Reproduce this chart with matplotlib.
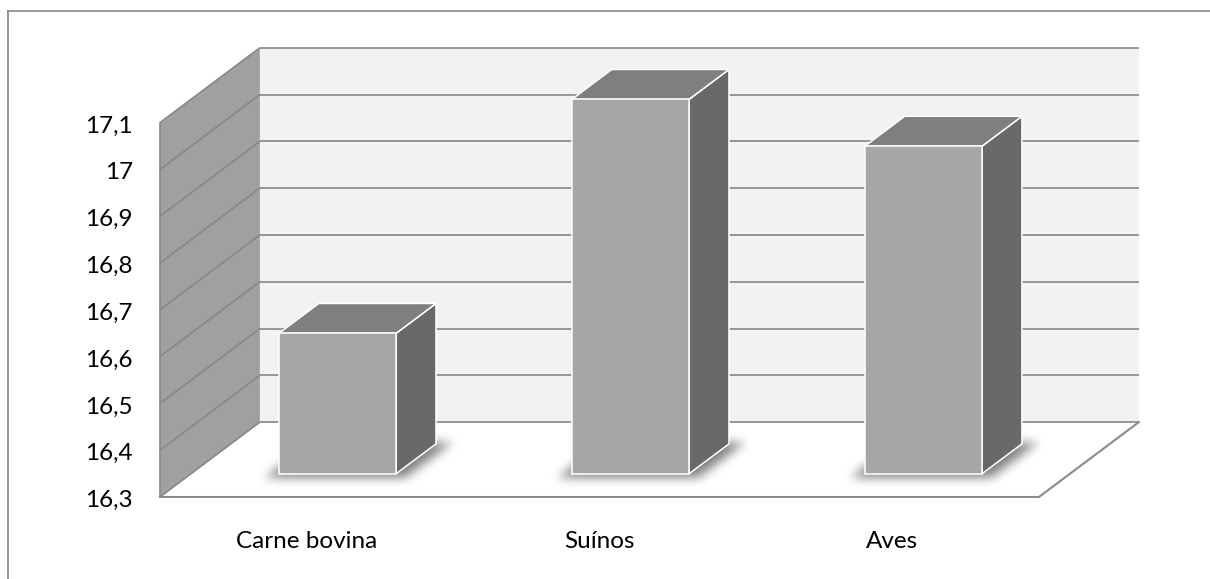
import numpy as np
import matplotlib
matplotlib.use("Agg")
import matplotlib.pyplot as plt
from matplotlib.patches import Polygon
from matplotlib.lines import Line2D
from matplotlib.path import Path

plt.rcParams["font.family"] = ["Lato", "DejaVu Sans"]

# data
categories = ["Carne bovina", "Suínos", "Aves"]
values = [16.6, 17.1, 17.0]
y_ticks = [16.3, 16.4, 16.5, 16.6, 16.7, 16.8, 16.9, 17.0, 17.1]
y_labels = ["16,3", "16,4", "16,5", "16,6", "16,7", "16,8", "16,9", "17", "17,1"]

# palette
BACK = "#f2f2f2"
SIDE = "#a0a0a0"
GRID = "#878787"
FRONT = "#a6a6a6"
TOP = "#7f7f7f"
RIGHT = "#696969"
EDGE = "#8a8a8a"

V_MIN, V_MAX = y_ticks[0], y_ticks[-1]
N = len(categories)
DX, DY = 0.341, 0.160          # oblique offset of full depth (category / value units)
BAR_W = 0.40                   # bar width in category units
BAR_D0, BAR_D1 = 0.31, 0.71    # bar depth span (0 = front, 1 = back wall)


def proj(c, v, d):
    """Oblique projection of (category, value, depth) onto the 2D axes."""
    return (c + d * DX, v + d * DY)


fig = plt.figure(figsize=(12.1, 5.79), dpi=100, facecolor="white")
ax = fig.add_axes([0, 0, 1, 1])
XLIM = (-0.546, 3.584)
YLIM = (16.1248, 17.362)
ax.set_xlim(*XLIM)
ax.set_ylim(*YLIM)
ax.axis("off")

# ── walls and floor ──────────────────────────────────────────────────────
back = [proj(0, V_MIN, 1), proj(N, V_MIN, 1), proj(N, V_MAX, 1), proj(0, V_MAX, 1)]
side = [proj(0, V_MIN, 0), proj(0, V_MIN, 1), proj(0, V_MAX, 1), proj(0, V_MAX, 0)]
floor = [proj(0, V_MIN, 0), proj(N, V_MIN, 0), proj(N, V_MIN, 1), proj(0, V_MIN, 1)]
ax.add_patch(Polygon(back, closed=True, facecolor=BACK, edgecolor="none", zorder=1))
ax.add_patch(Polygon(side, closed=True, facecolor=SIDE, edgecolor="none", zorder=1))
ax.add_patch(Polygon(floor, closed=True, facecolor="white", edgecolor="none", zorder=1))

for v in y_ticks:
    (x0, y0), (x1, y1) = proj(0, v, 1), proj(N, v, 1)
    ax.plot([x0, x1], [y0, y1], color=GRID, lw=1.2, zorder=2, solid_capstyle="butt")
    (x0, y0), (x1, y1) = proj(0, v, 0), proj(0, v, 1)
    ax.plot([x0, x1], [y0, y1], color=GRID, lw=1.2, zorder=2, solid_capstyle="butt")

# side wall front edge, floor front and right edges
(x0, y0), (x1, y1) = proj(0, V_MIN, 0), proj(0, V_MAX, 0)
ax.plot([x0, x1], [y0, y1], color=GRID, lw=1.2, zorder=2)
fx = [proj(0, V_MIN, 0), proj(N, V_MIN, 0), proj(N, V_MIN, 1)]
ax.plot([p[0] for p in fx], [p[1] for p in fx], color=EDGE, lw=1.5, zorder=2,
        solid_joinstyle="miter")

# ── soft shadows under the bars ──────────────────────────────────────────
px_x = fig.get_figwidth() * fig.dpi / (XLIM[1] - XLIM[0])
px_y = fig.get_figheight() * fig.dpi / (YLIM[1] - YLIM[0])


def blur(img, sigma):
    r = int(3 * sigma)
    k = np.exp(-0.5 * (np.arange(-r, r + 1) / sigma) ** 2)
    k /= k.sum()
    img = np.apply_along_axis(lambda m: np.convolve(m, k, mode="same"), 0, img)
    img = np.apply_along_axis(lambda m: np.convolve(m, k, mode="same"), 1, img)
    return img


for i, v in enumerate(values):
    c0 = i + 0.5 - BAR_W / 2 - 0.03
    c1 = i + 0.5 + BAR_W / 2 + 0.05
    d0, d1 = BAR_D0 - 0.06, BAR_D1 + 0.02
    foot = [proj(c0, V_MIN, d0), proj(c1, V_MIN, d0), proj(c1, V_MIN, d1), proj(c0, V_MIN, d1)]
    xs = [p[0] for p in foot]
    ys = [p[1] for p in foot]
    mx, my = 30 / px_x, 30 / px_y
    ex = (min(xs) - mx, max(xs) + mx, min(ys) - my, max(ys) + my)
    nx = int((ex[1] - ex[0]) * px_x)
    ny = int((ex[3] - ex[2]) * px_y)
    gx, gy = np.meshgrid(np.linspace(ex[0], ex[1], nx), np.linspace(ex[2], ex[3], ny))
    mask = Path(foot).contains_points(np.c_[gx.ravel(), gy.ravel()]).reshape(ny, nx)
    a = blur(mask.astype(float), 5.0) * 0.5
    rgba = np.zeros((ny, nx, 4))
    rgba[..., 3] = a
    ax.imshow(rgba, extent=ex, origin="lower", interpolation="bilinear", zorder=3)

ax.set_aspect("auto")
ax.set_xlim(*XLIM)
ax.set_ylim(*YLIM)

# ── bars ─────────────────────────────────────────────────────────────────
for i, v in enumerate(values):
    c0 = i + 0.5 - BAR_W / 2
    c1 = i + 0.5 + BAR_W / 2
    front = [proj(c0, V_MIN, BAR_D0), proj(c1, V_MIN, BAR_D0),
             proj(c1, v, BAR_D0), proj(c0, v, BAR_D0)]
    right = [proj(c1, V_MIN, BAR_D0), proj(c1, V_MIN, BAR_D1),
             proj(c1, v, BAR_D1), proj(c1, v, BAR_D0)]
    top = [proj(c0, v, BAR_D0), proj(c1, v, BAR_D0),
           proj(c1, v, BAR_D1), proj(c0, v, BAR_D1)]
    for pts, col in ((right, RIGHT), (top, TOP), (front, FRONT)):
        ax.add_patch(Polygon(pts, closed=True, facecolor=col, edgecolor="white",
                             lw=1.1, joinstyle="miter", zorder=4))

# ── labels ───────────────────────────────────────────────────────────────
for v, lab in zip(y_ticks, y_labels):
    ax.annotate(lab, xy=(0, v), xytext=(-27, -10), textcoords="offset pixels",
                ha="right", va="baseline", fontsize=17.5, color="black")

for i, cat in enumerate(categories):
    ax.annotate(cat, xy=(i + 0.5, V_MIN), xytext=(0, -51), textcoords="offset pixels",
                ha="center", va="baseline", fontsize=17.5, color="black")

# chart area border (left and top edges inside the image)
W, H = fig.get_figwidth() * fig.dpi, fig.get_figheight() * fig.dpi
fig.add_artist(Line2D([8 / W, 8 / W], [0, 1 - 11 / H], transform=fig.transFigure,
                      color="#8c8c8c", lw=1.3))
fig.add_artist(Line2D([8 / W, 1], [1 - 11 / H, 1 - 11 / H], transform=fig.transFigure,
                      color="#8c8c8c", lw=1.3))

fig.savefig("out.png", dpi=100, facecolor="white")
